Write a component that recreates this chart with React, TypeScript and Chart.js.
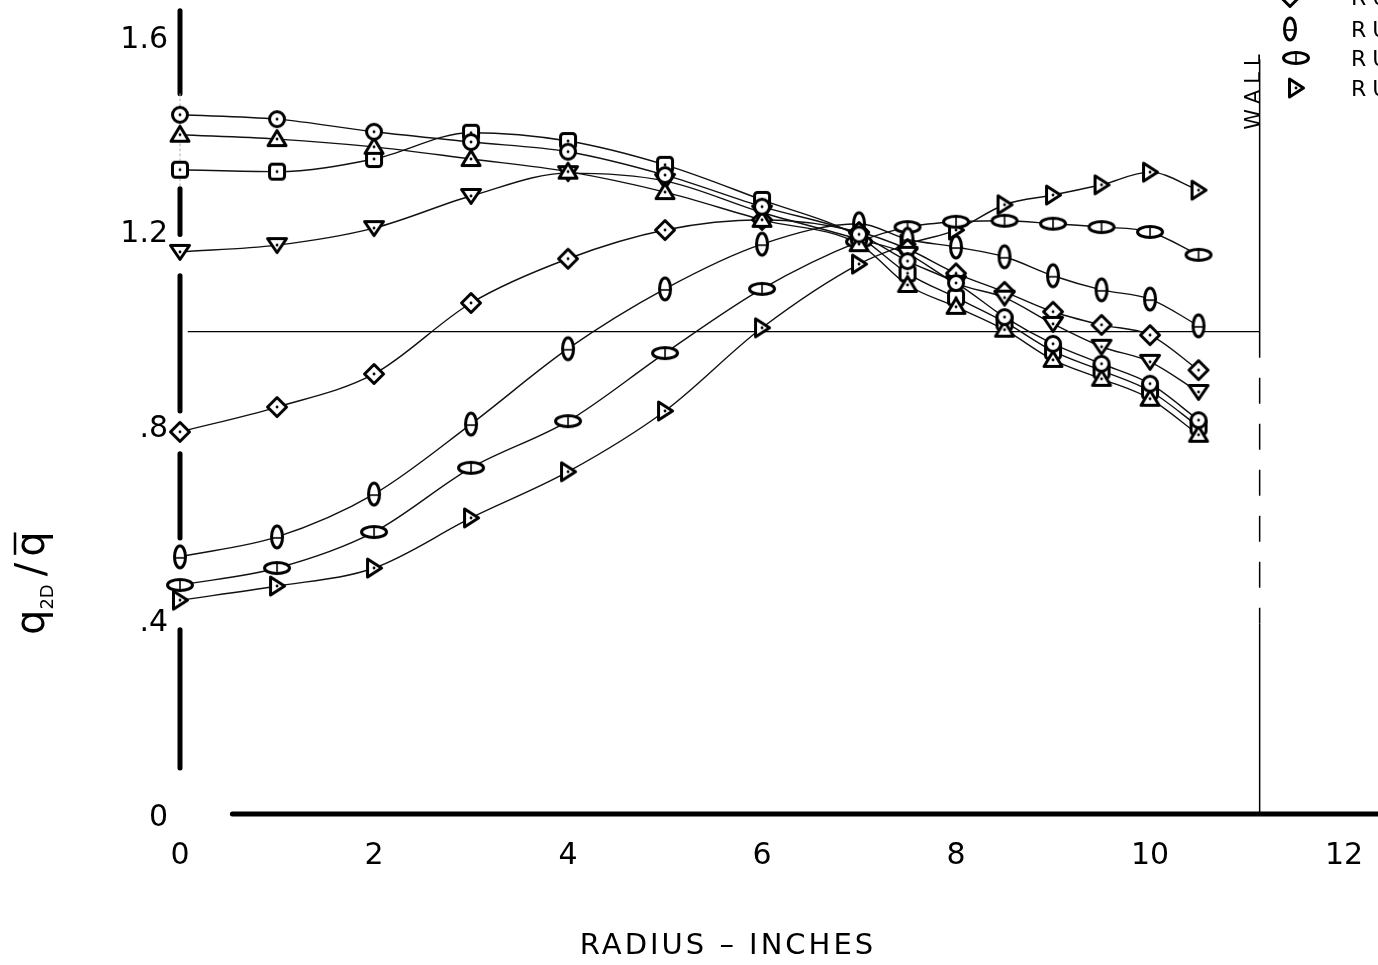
import React, { useEffect, useRef } from "react";
import { Chart, registerables } from "chart.js";

Chart.register(...registerables);

// ---- data ----
const radius = [0, 1, 2, 3, 4, 5, 6, 7, 7.5, 8, 8.5, 9, 9.5, 10, 10.5];

const circleSeries = [1.446, 1.437, 1.411, 1.39, 1.37, 1.322, 1.257, 1.2, 1.145, 1.1, 1.03, 0.975, 0.934, 0.893, 0.818];
const triangleUpSeries = [1.405, 1.396, 1.38, 1.355, 1.329, 1.287, 1.23, 1.18, 1.096, 1.051, 1.004, 0.942, 0.903, 0.862, 0.788];
const squareSeries = [1.333, 1.329, 1.355, 1.409, 1.392, 1.343, 1.271, 1.195, 1.12, 1.07, 1.02, 0.96, 0.92, 0.878, 0.805];
const triangleDownSeries = [1.164, 1.178, 1.213, 1.279, 1.326, 1.31, 1.245, 1.19, 1.16, 1.1, 1.07, 1.016, 0.969, 0.938, 0.876];
const diamondSeries = [0.794, 0.845, 0.913, 1.059, 1.15, 1.209, 1.23, 1.205, 1.17, 1.12, 1.082, 1.041, 1.014, 0.993, 0.921];
const tallEllipseSeries = [0.537, 0.578, 0.666, 0.81, 0.965, 1.088, 1.18, 1.222, 1.19, 1.174, 1.154, 1.115, 1.086, 1.067, 1.012];
const flatEllipseSeries = [0.479, 0.514, 0.588, 0.72, 0.816, 0.956, 1.088, 1.185, 1.215, 1.226, 1.228, 1.222, 1.215, 1.205, 1.158];
const triangleRightSeries = [0.448, 0.477, 0.514, 0.617, 0.712, 0.837, 1.008, 1.139, 1.18, 1.209, 1.261, 1.281, 1.302, 1.328, 1.291];

const xTickValues = [0, 2, 4, 6, 8, 10, 12];
const xTickLabels = ["0", "2", "4", "6", "8", "10", "12"];
const yTickValues = [0, 0.4, 0.8, 1.2, 1.6];
const yTickLabels = ["0", ".4", ".8", "1.2", "1.6"];

const legendLabels = ["RUN 5", "RUN 6", "RUN 7", "RUN 8"];
const referenceValue = 1.0;
const wallRadius = 11.13;

const xAxisTitle = "RADIUS – INCHES";
const wallLabel = "WALL";

// ---- styling ----
const FONT = "'DejaVu Sans', sans-serif";
const Y_AXIS_SEGMENTS: [number, number][] = [
  [1.66, 1.489],
  [1.294, 1.2],
  [1.115, 0.837],
  [0.749, 0.576],
  [0.387, 0.103],
];

function makeMarker(kind: string): HTMLCanvasElement {
  const c = document.createElement("canvas");
  const s = 36;
  c.width = s;
  c.height = s;
  const g = c.getContext("2d") as CanvasRenderingContext2D;
  g.translate(s / 2, s / 2);
  g.lineWidth = 3;
  g.strokeStyle = "#000";
  g.fillStyle = "#fff";
  g.lineJoin = "round";
  g.beginPath();
  switch (kind) {
    case "circle":
      g.arc(0, 0, 7.5, 0, Math.PI * 2);
      break;
    case "triUp":
      g.moveTo(0, -8.5);
      g.lineTo(9, 6.5);
      g.lineTo(-9, 6.5);
      g.closePath();
      break;
    case "triDown":
      g.moveTo(0, 7.5);
      g.lineTo(9.5, -6.5);
      g.lineTo(-9.5, -6.5);
      g.closePath();
      break;
    case "triRight":
      g.moveTo(7.5, 0);
      g.lineTo(-6.5, -9);
      g.lineTo(-6.5, 9);
      g.closePath();
      break;
    case "square":
      g.roundRect(-7.5, -7.5, 15, 15, 3);
      break;
    case "diamond":
      g.moveTo(0, -9.5);
      g.lineTo(9.5, 0);
      g.lineTo(0, 9.5);
      g.lineTo(-9.5, 0);
      g.closePath();
      break;
    case "tall":
      g.ellipse(0, 0, 5.5, 11, 0, 0, Math.PI * 2);
      break;
    case "flat":
      g.ellipse(0, 0, 12.5, 5.5, 0, 0, Math.PI * 2);
      break;
  }
  g.fill();
  g.stroke();
  g.lineWidth = 1.6;
  if (kind === "tall") {
    g.beginPath();
    g.moveTo(-4, 1);
    g.lineTo(4, 1);
    g.stroke();
  } else if (kind === "flat") {
    g.beginPath();
    g.moveTo(0, -4);
    g.lineTo(0, 4);
    g.stroke();
  } else {
    g.beginPath();
    g.fillStyle = "#000";
    g.arc(0, 0, 1.4, 0, Math.PI * 2);
    g.fill();
  }
  return c;
}

export default function App() {
  const ref = useRef<HTMLCanvasElement | null>(null);

  useEffect(() => {
    document.body.style.margin = "0";
    const canvas = ref.current;
    if (!canvas) return;

    const markers: Record<string, HTMLCanvasElement> = {};
    ["circle", "triUp", "triDown", "triRight", "square", "diamond", "tall", "flat"].forEach((k) => {
      markers[k] = makeMarker(k);
    });

    const series: { values: number[]; marker: string }[] = [
      { values: circleSeries, marker: "circle" },
      { values: triangleUpSeries, marker: "triUp" },
      { values: squareSeries, marker: "square" },
      { values: triangleDownSeries, marker: "triDown" },
      { values: diamondSeries, marker: "diamond" },
      { values: tallEllipseSeries, marker: "tall" },
      { values: flatEllipseSeries, marker: "flat" },
      { values: triangleRightSeries, marker: "triRight" },
    ];

    const datasets: any[] = [];
    series.forEach((s) => {
      const pts = radius.map((r, i) => ({ x: r, y: s.values[i] }));
      datasets.push({
        data: pts,
        borderColor: "#111",
        borderWidth: 1.4,
        pointRadius: 0,
        fill: false,
        cubicInterpolationMode: "monotone",
        order: 2,
        clip: false,
      });
      datasets.push({
        data: pts,
        showLine: false,
        pointStyle: markers[s.marker],
        pointRadius: 8,
        order: 1,
        clip: false,
      });
    });

    const decor = {
      id: "decor",
      beforeDatasetsDraw(chart: any) {
        const { ctx } = chart;
        const xs = chart.scales.x;
        const ys = chart.scales.y;
        const X = (v: number) => xs.getPixelForValue(v);
        const Y = (v: number) => ys.getPixelForValue(v);
        const line = (x1: number, y1: number, x2: number, y2: number) => {
          ctx.beginPath();
          ctx.moveTo(x1, y1);
          ctx.lineTo(x2, y2);
          ctx.stroke();
        };
        ctx.save();
        ctx.strokeStyle = "#000";
        ctx.lineCap = "round";
        // broken thick y axis
        ctx.lineWidth = 5;
        const ax = X(0);
        Y_AXIS_SEGMENTS.forEach(([a, b]) => line(ax, Y(a), ax, Y(b)));
        ctx.lineWidth = 1;
        ctx.strokeStyle = "#aaa";
        ctx.setLineDash([2, 3]);
        line(ax, Y(1.489), ax, Y(1.294));
        ctx.setLineDash([]);
        ctx.strokeStyle = "#000";
        // thick x axis
        ctx.lineWidth = 5;
        line(X(0.54), Y(0) - 4, chart.width + 5, Y(0) - 4);
        // reference line
        ctx.lineCap = "butt";
        ctx.lineWidth = 1.3;
        line(X(0.08), Y(referenceValue), X(wallRadius), Y(referenceValue));
        // wall
        ctx.lineWidth = 1.5;
        line(X(wallRadius), Y(1.56), X(wallRadius), Y(referenceValue));
        ctx.setLineDash([26, 20]);
        line(X(wallRadius), Y(referenceValue), X(wallRadius), Y(0.4));
        ctx.setLineDash([]);
        line(X(wallRadius), Y(0.4), X(wallRadius), Y(0) - 6);
        ctx.restore();
      },
      afterDraw(chart: any) {
        const { ctx } = chart;
        const xs = chart.scales.x;
        ctx.save();
        ctx.fillStyle = "#000";
        ctx.strokeStyle = "#000";
        // x-axis title
        ctx.font = `29px ${FONT}`;
        (ctx as any).letterSpacing = "3px";
        ctx.textAlign = "center";
        ctx.textBaseline = "middle";
        ctx.fillText(xAxisTitle, 728, 946);
        // WALL label
        ctx.save();
        ctx.translate(xs.getPixelForValue(wallRadius) - 5, 92);
        ctx.rotate(-Math.PI / 2);
        ctx.font = `21px ${FONT}`;
        (ctx as any).letterSpacing = "6px";
        ctx.fillText(wallLabel, 3, 0);
        ctx.restore();
        (ctx as any).letterSpacing = "0px";
        // y-axis title q_2D / q-bar
        ctx.save();
        ctx.translate(44, 573);
        ctx.rotate(-Math.PI / 2);
        ctx.textAlign = "left";
        ctx.textBaseline = "alphabetic";
        ctx.font = `40px ${FONT}`;
        let u = -62;
        ctx.fillText("q", u, 0);
        u += ctx.measureText("q").width;
        ctx.font = `18px ${FONT}`;
        ctx.fillText("2D", u, 9);
        u += ctx.measureText("2D").width + 8;
        ctx.font = `40px ${FONT}`;
        ctx.fillText("/", u, 0);
        u += ctx.measureText("/").width + 6;
        ctx.fillText("q", u, 0);
        const qw = ctx.measureText("q").width;
        ctx.lineWidth = 2.5;
        ctx.beginPath();
        ctx.moveTo(u + 2, -29);
        ctx.lineTo(u + qw - 1, -29);
        ctx.stroke();
        ctx.restore();
        // legend (cut off at right edge)
        const legendMarkers = ["diamond", "tall", "flat", "triRight"];
        const rows = [-3, 29, 58, 88];
        const mx = [1290, 1290, 1296, 1296];
        ctx.font = `22px ${FONT}`;
        (ctx as any).letterSpacing = "6px";
        ctx.textAlign = "left";
        ctx.textBaseline = "middle";
        legendMarkers.forEach((m, i) => {
          const img = markers[m];
          ctx.drawImage(img, mx[i] - img.width / 2, rows[i] - img.height / 2);
          ctx.fillText(legendLabels[i], 1351, rows[i] + 2);
        });
        ctx.restore();
      },
    };

    const chart = new Chart(canvas, {
      type: "line",
      data: { datasets },
      options: {
        responsive: false,
        animation: false,
        layout: { padding: 0, autoPadding: false },
        plugins: {
          legend: { display: false },
          tooltip: { enabled: false },
        },
        scales: {
          x: {
            type: "linear",
            min: 0,
            max: 12.35,
            afterFit: (s: any) => {
              s.height = 147;
              s.paddingLeft = 0;
              s.paddingRight = 0;
            },
            afterBuildTicks: (s: any) => {
              s.ticks = xTickValues.map((v) => ({ value: v }));
            },
            grid: { display: false, drawTicks: false },
            border: { display: false },
            ticks: {
              callback: (_v: any, i: number) => xTickLabels[i],
              font: { family: FONT, size: 30 },
              color: "#000",
              padding: 20,
              maxRotation: 0,
              autoSkip: false,
            },
          },
          y: {
            type: "linear",
            min: 0,
            max: 1.682,
            afterFit: (s: any) => {
              s.width = 180;
              s.paddingTop = 0;
              s.paddingBottom = 0;
            },
            afterBuildTicks: (s: any) => {
              s.ticks = yTickValues.map((v) => ({ value: v }));
            },
            grid: { display: false, drawTicks: false },
            border: { display: false },
            ticks: {
              callback: (_v: any, i: number) => yTickLabels[i],
              font: { family: FONT, size: 30 },
              color: "#000",
              padding: 12,
              autoSkip: false,
            },
          },
        },
      },
      plugins: [decor],
    } as any);

    return () => chart.destroy();
  }, []);

  return (
    <canvas
      ref={ref}
      width={1378}
      height={965}
      style={{ position: "absolute", left: 0, top: 0, display: "block", background: "#fff" }}
    />
  );
}
